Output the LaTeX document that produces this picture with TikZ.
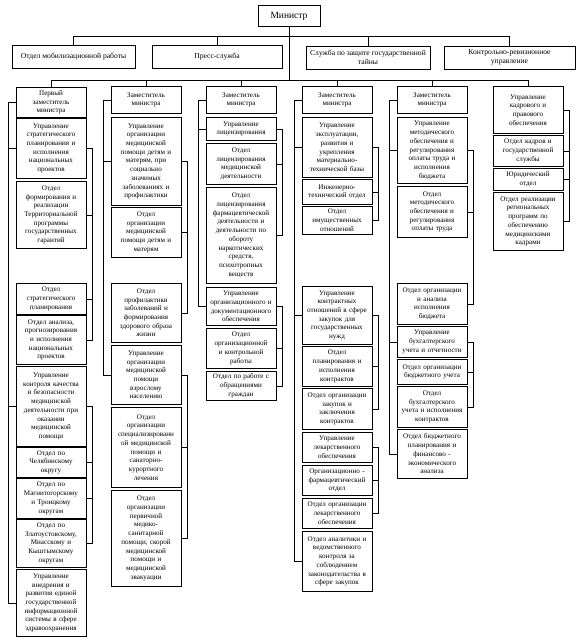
\documentclass[tikz,border=0pt]{standalone}
\usepackage{fontspec}
\setmainfont{Liberation Serif}
\tikzset{
  dept node/.style={draw,line width=0.75pt,fill=white,align=center,anchor=north,
    font=\fontsize{7.1}{8.7}\selectfont,text width=67pt,inner sep=1.5pt},
  top node/.style={draw,line width=0.75pt,fill=white,align=center,
    font=\fontsize{7.6}{9}\selectfont,inner sep=2pt,minimum height=23},
  link line/.style={draw=black,line width=0.6pt}
}

\begin{document}
\begin{tikzpicture}[x=1pt,y=-1pt]
  \path[fill=white,use as bounding box] (0,0) rectangle (579,644);
  % minister and services
  \node[top node,minimum width=62,minimum height=21,font=\fontsize{9.5}{10}\selectfont] (minister) at (289,16) {Министр};
  \node[top node,minimum width=123] (mob) at (73.5,56.5) {Отдел мобилизационной работы};
  \node[top node,minimum width=130] (press) at (217,56.5) {Пресс-служба};
  \node[top node,minimum width=124] (secret) at (368,57.5) {Служба по защите государственной\\тайны};
  \node[top node,minimum width=131] (kru) at (509.5,57.5) {Контрольно-ревизионное\\управление};
  \coordinate (top bus) at (289,36);
  \coordinate (low bus) at (289,80);

  % first deputy
  \node[dept node,minimum height=30] (c1h) at (51,87) {Первый\\заместитель\\министра};
  \node[dept node,minimum height=60] (c1a) at (51,118) {Управление\\стратегического\\планирования и\\исполнения\\национальных\\проектов};
  \node[dept node,minimum height=67] (c1b) at (51,181) {Отдел\\формирования и\\реализации\\Территориальной\\программы\\государственных\\гарантий};
  \node[dept node,minimum height=31] (c1c) at (51,283) {Отдел\\стратегического\\планирования};
  \node[dept node,minimum height=49] (c1d) at (51,315) {Отдел анализа,\\прогнозирования\\и исполнения\\национальных\\проектов};
  \node[dept node,minimum height=80] (c1e) at (51,366) {Управление\\контроля качества\\и безопасности\\медицинской\\деятельности при\\оказании\\медицинской\\помощи};
  \node[dept node,minimum height=30] (c1f) at (51,447) {Отдел по\\Челябинскому\\округу};
  \node[dept node,minimum height=40] (c1g) at (51,478) {Отдел по\\Магнитогорскому\\и Троицкому\\округам};
  \node[dept node,minimum height=48] (c1k) at (51,519) {Отдел по\\Златоустовскому,\\Миасскому и\\Кыштымскому\\округам};
  \node[dept node,minimum height=67] (c1m) at (51,569) {Управление\\внедрения и\\развития единой\\государственной\\информационной\\системы в сфере\\здравоохранения};

  % deputy 2
  \node[dept node,minimum height=27] (c2h) at (146,86) {Заместитель\\министра};
  \node[dept node,minimum height=88] (c2a) at (146,117) {Управление\\организации\\медицинской\\помощи детям и\\матерям, при\\социально\\значимых\\заболеваниях и\\профилактики};
  \node[dept node,minimum height=50] (c2b) at (146,207) {Отдел\\организации\\медицинской\\помощи детям и\\матерям};
  \node[dept node,minimum height=59] (c2c) at (146,283) {Отдел\\профилактики\\заболеваний и\\формирования\\здорового образа\\жизни};
  \node[dept node,minimum height=59] (c2d) at (146,345) {Управление\\организации\\медицинской\\помощи\\взрослому\\населению};
  \node[dept node,minimum height=80] (c2e) at (146,407) {Отдел\\организации\\специализированн\\ой медицинской\\помощи и\\санаторно-\\курортного\\лечения};
  \node[dept node,minimum height=96] (c2f) at (146,490) {Отдел\\организации\\первичной\\медико-\\санитарной\\помощи, скорой\\медицинской\\помощи и\\медицинской\\эвакуации};

  % deputy 3
  \node[dept node,minimum height=27] (c3h) at (241,86) {Заместитель\\министра};
  \node[dept node,minimum height=23] (c3a) at (241,117) {Управление\\лицензирования};
  \node[dept node,minimum height=41] (c3b) at (241,143) {Отдел\\лицензирования\\медицинской\\деятельности};
  \node[dept node,minimum height=96] (c3c) at (241,187) {Отдел\\лицензирования\\фармацевтической\\деятельности и\\деятельности по\\обороту\\наркотических\\средств,\\психотропных\\веществ};
  \node[dept node,minimum height=38] (c3d) at (241,287) {Управление\\организационного и\\документационного\\обеспечения};
  \node[dept node,minimum height=40] (c3e) at (241,328) {Отдел\\организационной\\и контрольной\\работы};
  \node[dept node,minimum height=29] (c3f) at (241,371) {Отдел по работе с\\обращениями\\граждан};

  % deputy 4
  \node[dept node,minimum height=27] (c4h) at (337,86) {Заместитель\\министра};
  \node[dept node,minimum height=60] (c4a) at (337,117) {Управление\\эксплуатации,\\развития и\\укрепления\\материально-\\технической базы};
  \node[dept node,minimum height=25] (c4b) at (337,179) {Инженерно-\\технический отдел};
  \node[dept node,minimum height=28] (c4c) at (337,206) {Отдел\\имущественных\\отношений};
  \node[dept node,minimum height=58] (c4d) at (337,286) {Управление\\контрактных\\отношений в сфере\\закупок для\\государственных\\нужд};
  \node[dept node,minimum height=40] (c4e) at (337,346) {Отдел\\планирования и\\исполнения\\контрактов};
  \node[dept node,minimum height=41] (c4f) at (337,388) {Отдел организации\\закупок и\\заключения\\контрактов};
  \node[dept node,minimum height=30] (c4g) at (337,432) {Управление\\лекарственного\\обеспечения};
  \node[dept node,minimum height=30] (c4k) at (337,465) {Организационно -\\фармацевтический\\отдел};
  \node[dept node,minimum height=30] (c4m) at (337,498) {Отдел организации\\лекарственного\\обеспечения};
  \node[dept node,minimum height=60] (c4n) at (337,531) {Отдел аналитики и\\ведомственного\\контроля за\\соблюдением\\законодательства в\\сфере закупок};

  % deputy 5
  \node[dept node,minimum height=27] (c5h) at (432,86) {Заместитель\\министра};
  \node[dept node,minimum height=66] (c5a) at (432,117) {Управление\\методического\\обеспечения и\\регулирования\\оплаты труда и\\исполнения\\бюджета};
  \node[dept node,minimum height=51] (c5b) at (432,186) {Отдел\\методического\\обеспечения и\\регулирования\\оплаты труда};
  \node[dept node,minimum height=41] (c5c) at (432,283) {Отдел организации\\и анализа\\исполнения\\бюджета};
  \node[dept node,minimum height=31] (c5d) at (432,326) {Управление\\бухгалтерского\\учета и отчетности};
  \node[dept node,minimum height=25] (c5e) at (432,359) {Отдел организации\\бюджетного учета};
  \node[dept node,minimum height=41] (c5f) at (432,386) {Отдел\\бухгалтерского\\учета и исполнения\\контрактов};
  \node[dept node,minimum height=49] (c5g) at (432,429) {Отдел бюджетного\\планирования и\\финансово -\\экономического\\анализа};

  % personnel
  \node[dept node,minimum height=47] (c6h) at (528,86) {Управление\\кадрового и\\правового\\обеспечения};
  \node[dept node,minimum height=31] (c6a) at (528,135) {Отдел кадров и\\государственной\\службы};
  \node[dept node,minimum height=22] (c6b) at (528,168) {Юридический\\отдел};
  \node[dept node,minimum height=58] (c6c) at (528,192) {Отдел реализации\\региональных\\программ по\\обеспечению\\медицинскими\\кадрами};

  % buses
  \draw[link line] (minister) -- (low bus);
  \draw[link line] (mob.north |- top bus) -- (kru.north |- top bus);
  \foreach \s in {mob,press,secret,kru}
    \draw[link line] (\s.north) -- (\s.north |- top bus);
  \draw[link line] (c1h.north |- low bus) -- (c6h.north |- low bus);
  \foreach \s in {c1h,c2h,c3h,c4h,c5h,c6h}
    \draw[link line] (\s.north) -- (\s.north |- low bus);

  % left spines
  \foreach \t in {c1a,c1e,c1m} \draw[link line] (c1h.west) -- ++(-7,0) |- (\t.west);
  \foreach \t in {c2a,c2d} \draw[link line] (c2h.west) -- ++(-7,0) |- (\t.west);
  \foreach \t in {c3a,c3d} \draw[link line] (c3h.west) -- ++(-7,0) |- (\t.west);
  \foreach \t in {c4a,c4d,c4n} \draw[link line] (c4h.west) -- ++(-7,0) |- (\t.west);
  \foreach \t in {c5a,c5d,c5g} \draw[link line] (c5h.west) -- ++(-7,0) |- (\t.west);

  % right brackets
  \foreach \t in {c1b,c1c,c1d} \draw[link line] (c1a.east) -- ++(6,0) |- (\t.east);
  \foreach \t in {c1f,c1g,c1k} \draw[link line] (c1e.east) -- ++(6,0) |- (\t.east);
  \foreach \t in {c2b,c2c} \draw[link line] (c2a.east) -- ++(6,0) |- (\t.east);
  \foreach \t in {c2e,c2f} \draw[link line] (c2d.east) -- ++(6,0) |- (\t.east);
  \foreach \t in {c3b,c3c} \draw[link line] (c3a.east) -- ++(6,0) |- (\t.east);
  \foreach \t in {c3e,c3f} \draw[link line] (c3d.east) -- ++(6,0) |- (\t.east);
  \foreach \t in {c4b,c4c} \draw[link line] (c4a.east) -- ++(6,0) |- (\t.east);
  \foreach \t in {c4e,c4f} \draw[link line] (c4d.east) -- ++(6,0) |- (\t.east);
  \foreach \t in {c4k,c4m} \draw[link line] (c4g.east) -- ++(6,0) |- (\t.east);
  \foreach \t in {c5b,c5c} \draw[link line] (c5a.east) -- ++(6,0) |- (\t.east);
  \foreach \t in {c5e,c5f} \draw[link line] (c5d.east) -- ++(6,0) |- (\t.east);
  \foreach \t in {c6a,c6b,c6c} \draw[link line] (c6h.east) -- ++(6,0) |- (\t.east);
\end{tikzpicture}
\end{document}
